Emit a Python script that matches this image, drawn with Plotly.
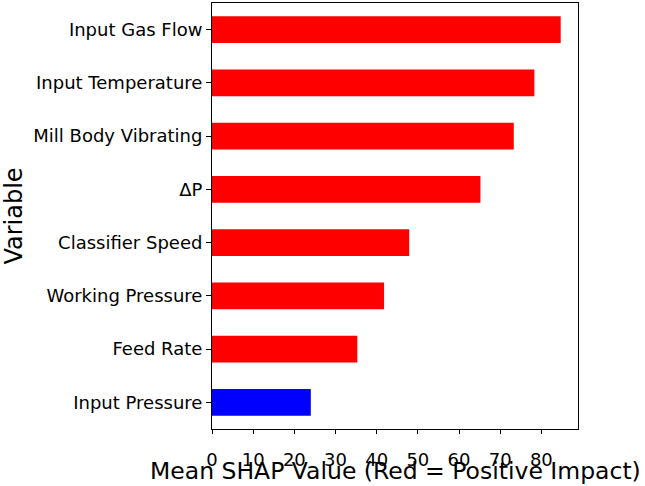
import plotly.graph_objects as go

variables = ["Input Pressure", "Feed Rate", "Working Pressure", "Classifier Speed",
             "ΔP", "Mill Body Vibrating", "Input Temperature", "Input Gas Flow"]
shap_values = [24.0, 35.3, 41.8, 47.9, 65.2, 73.3, 78.3, 84.7]
bar_colors = ["#0000ff", "#ff0000", "#ff0000", "#ff0000", "#ff0000", "#ff0000", "#ff0000", "#ff0000"]
x_ticks = [0, 10, 20, 30, 40, 50, 60, 70, 80]
x_title = "Mean SHAP Value (Red = Positive Impact)"

font = "DejaVu Sans, Liberation Sans, sans-serif"

fig = go.Figure(go.Bar(
    x=shap_values, y=variables, orientation="h",
    marker=dict(color=bar_colors, line=dict(width=0)),
    width=0.5,
))

fig.update_layout(
    width=645, height=486,
    margin=dict(l=212, r=67, t=3, b=57, autoexpand=False),
    paper_bgcolor="white", plot_bgcolor="white",
    font=dict(family=font, color="black", size=18),
    showlegend=False,
    annotations=[dict(text=x_title, xref="paper", yref="paper", x=0.5, y=0,
                      xanchor="center", yanchor="middle", yshift=-42,
                      showarrow=False, font=dict(size=23.5))],
)
fig.update_xaxes(
    range=[0, 88.9], tickvals=x_ticks, ticks="outside", ticklen=4, tickwidth=1,
    tickcolor="black", showline=True, linecolor="black", linewidth=1, mirror=True,
    showgrid=False, zeroline=False, tickfont=dict(size=18), automargin=False,
    ticklabelstandoff=10,
)
fig.update_yaxes(
    range=[-0.5, 7.5], ticks="outside", ticklen=5, tickwidth=1, tickcolor="black",
    showline=True, linecolor="black", linewidth=1, mirror=True, showgrid=False,
    zeroline=False, tickfont=dict(size=18), automargin=False,
    title=dict(text="Variable", font=dict(size=24), standoff=6),
)

fig.write_html("out.html", config={"displayModeBar": False},
               post_script="document.body.style.margin='0';")
